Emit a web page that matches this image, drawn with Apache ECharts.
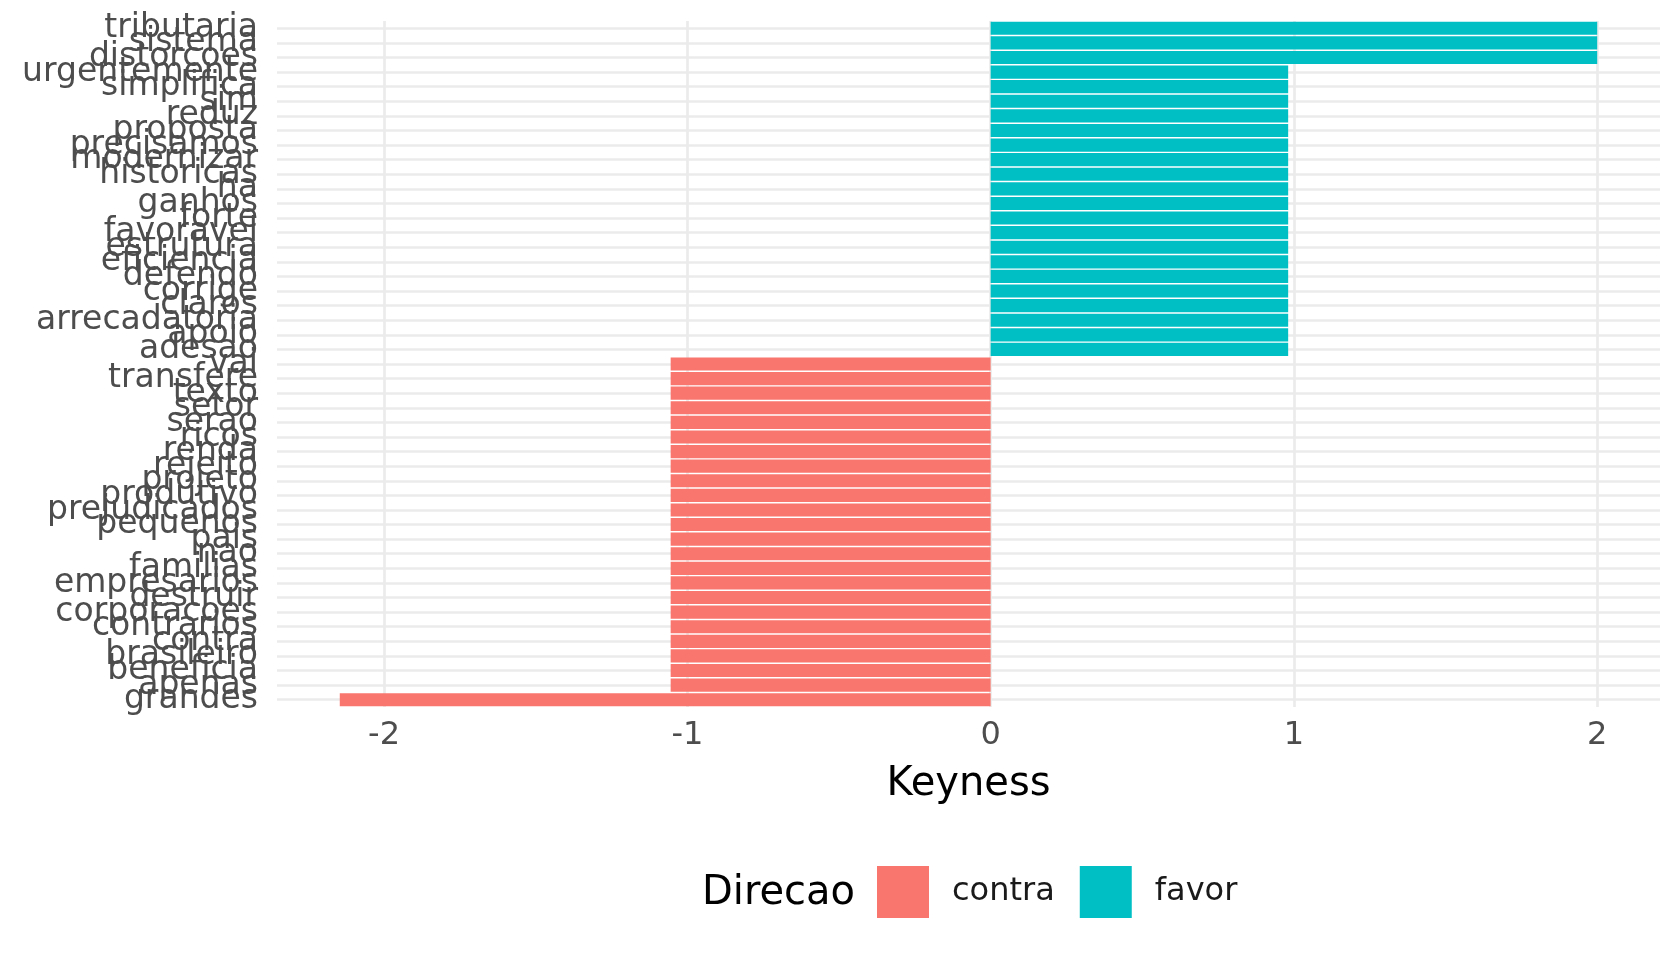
<!DOCTYPE html>
<html>
<head>
<meta charset="utf-8">
<title>Keyness</title>
<script src="https://cdn.jsdelivr.net/npm/echarts@6/dist/echarts.min.js"></script>
<style>
  html, body { margin: 0; padding: 0; background: #fff; }
  #chart { width: 1680px; height: 960px; }
</style>
</head>
<body>
<div id="chart"></div>
<script>
// palavras de cima para baixo
var words = ['tributaria', 'sistema', 'distorcoes', 'urgentemente', 'simplifica', 'sim', 'reduz',
  'proposta', 'precisamos', 'modernizar', 'historicas', 'ha', 'ganhos', 'forte', 'favoravel',
  'estrutura', 'eficiencia', 'defendo', 'corrige', 'claros', 'arrecadatoria', 'apoio', 'adesao',
  'vai', 'transfere', 'texto', 'setor', 'serao', 'ricos', 'renda', 'rejeito', 'projeto',
  'produtivo', 'prejudicados', 'pequenos', 'pais', 'nao', 'familias', 'empresarios', 'destruir',
  'corporacoes', 'contrarios', 'contra', 'brasileiro', 'beneficia', 'apenas', 'grandes'];

var keyness = [2.0, 2.0, 2.0, 0.981, 0.981, 0.981, 0.981,
  0.981, 0.981, 0.981, 0.981, 0.981, 0.981, 0.981, 0.981,
  0.981, 0.981, 0.981, 0.981, 0.981, 0.981, 0.981, 0.981,
  -1.055, -1.055, -1.055, -1.055, -1.055, -1.055, -1.055, -1.055, -1.055,
  -1.055, -1.055, -1.055, -1.055, -1.055, -1.055, -1.055, -1.055,
  -1.055, -1.055, -1.055, -1.055, -1.055, -1.055, -2.146];

var direcao = ['favor', 'favor', 'favor', 'favor', 'favor', 'favor', 'favor',
  'favor', 'favor', 'favor', 'favor', 'favor', 'favor', 'favor', 'favor',
  'favor', 'favor', 'favor', 'favor', 'favor', 'favor', 'favor', 'favor',
  'contra', 'contra', 'contra', 'contra', 'contra', 'contra', 'contra', 'contra', 'contra',
  'contra', 'contra', 'contra', 'contra', 'contra', 'contra', 'contra', 'contra',
  'contra', 'contra', 'contra', 'contra', 'contra', 'contra', 'contra'];

var xTicks = [-2, -1, 0, 1, 2];
var groups = ['contra', 'favor'];
var groupColors = ['#F8766D', '#00BFC4'];

var font = 'DejaVu Sans';

function seriesData(group) {
  return keyness.map(function (v, i) { return direcao[i] === group ? v : '-'; });
}

var gridStyle = { color: '#EBEBEB', width: 2.7, type: 'solid' };

var option = {
  animation: false,
  grid: { left: 277, right: 20, top: 21, bottom: 253, containLabel: false },
  legend: {
    data: groups,
    left: 872,
    top: 861,
    orient: 'horizontal',
    icon: 'rect',
    itemWidth: 52,
    itemHeight: 52,
    itemGap: 25,
    selectedMode: false,
    textStyle: { fontFamily: font, fontSize: 32, color: '#1a1a1a', padding: [0, 0, 0, 18] }
  },
  graphic: [{
    type: 'text',
    left: 702,
    top: 874,
    style: { text: 'Direcao', fontFamily: font, fontSize: 40, fill: '#000' }
  }],
  xAxis: {
    type: 'value',
    min: -2.353,
    max: 2.207,
    name: 'Keyness',
    nameLocation: 'middle',
    nameGap: 58,
    nameTextStyle: { fontFamily: font, fontSize: 40, color: '#000' },
    axisLine: { show: false },
    axisTick: { show: false },
    splitLine: { show: false },
    axisLabel: {
      customValues: xTicks,
      fontFamily: font, fontSize: 32, color: '#4D4D4D', margin: 13
    }
  },
  yAxis: {
    type: 'category',
    data: words,
    inverse: true,
    axisLine: { show: false },
    axisTick: { show: false },
    splitLine: { show: false },
    axisLabel: {
      interval: 0, fontFamily: font, fontSize: 33, color: '#4D4D4D', margin: 19,
      padding: [7, 0, 0, 0]
    }
  },
  series: [
    {
      name: 'grade',
      type: 'line',
      data: [],
      z: 0,
      silent: true,
      markLine: {
        z: 0,
        silent: true,
        symbol: ['none', 'none'],
        label: { show: false },
        lineStyle: gridStyle,
        emphasis: { disabled: true },
        data: words.map(function (w) { return { yAxis: w }; })
          .concat(xTicks.map(function (v) { return { xAxis: v }; }))
      }
    }
  ].concat(groups.map(function (g, k) {
    return {
      name: g,
      type: 'bar',
      stack: 'k',
      barWidth: '90%',
      z: 3,
      itemStyle: { color: groupColors[k] },
      emphasis: { disabled: true },
      data: seriesData(g)
    };
  }))
};

var chart = echarts.init(document.getElementById('chart'));
chart.setOption(option);
</script>
</body>
</html>
